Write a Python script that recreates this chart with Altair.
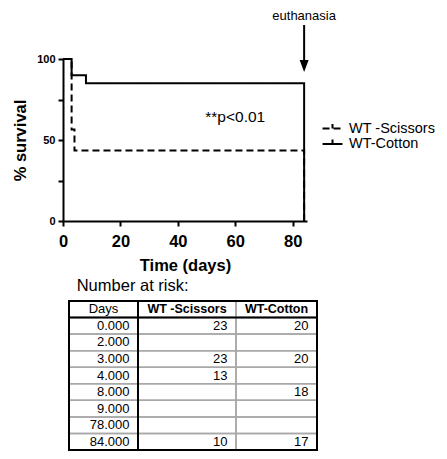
import altair as alt
import pandas as pd

FONT = "Liberation Sans"

# ---- survival data (Kaplan-Meier steps, % survival) ----
groups = ["WT -Scissors", "WT-Cotton"]
scissors_days = [0, 3, 4, 84, 84]
scissors_surv = [100, 56.5, 43.5, 43.5, 0]
cotton_days = [0, 3, 8, 84, 84]
cotton_surv = [100, 90, 85, 85, 0]

x_ticks = [0, 20, 40, 60, 80]
y_ticks = [0, 25, 50, 75, 100]

# ---- annotations ----
pval_text = ["**p<0.01"]
pval_day = [60]
pval_surv = [64]
euth_text = ["euthanasia"]
euth_day = [84]
euth_surv = [126.5]
arrow_top = [121]
arrow_end = [96]
arrow_head = [95.7]

# ---- number at risk table ----
table_title = ["Number at risk:"]
headers = ["Days", "WT -Scissors", "WT-Cotton"]
risk_days = ["0.000", "2.000", "3.000", "4.000", "8.000", "9.000", "78.000", "84.000"]
risk_scissors = ["23", "", "23", "13", "", "", "", "10"]
risk_cotton = ["20", "", "20", "", "18", "", "", "17"]
col_widths = [69, 98, 81]

# ---------- build frames ----------
curve_rows = []
for g, ds, ss in [(groups[0], scissors_days, scissors_surv), (groups[1], cotton_days, cotton_surv)]:
    for i, (d, s) in enumerate(zip(ds, ss)):
        curve_rows.append({"group": g, "day": d, "surv": s, "step": i})
curve_df = pd.DataFrame(curve_rows)

pval_df = pd.DataFrame({"day": pval_day, "surv": pval_surv, "label": pval_text})
euth_df = pd.DataFrame({"day": euth_day, "surv": euth_surv, "label": euth_text})
arrow_df = pd.DataFrame({"day": euth_day, "surv": arrow_top, "surv2": arrow_end})
head_df = pd.DataFrame({"day": euth_day, "surv": arrow_head})

edges = [0]
for w in col_widths:
    edges.append(edges[-1] + w)
total_w = edges[-1]
n_rows = len(risk_days) + 1

cells = []
for ci, h in enumerate(headers):
    cells.append({"x0": edges[ci], "x1": edges[ci + 1], "xc": (edges[ci] + edges[ci + 1]) / 2,
                  "y0": 0, "y1": 1, "ym": 0.5, "label": h, "col": ci, "row": 0})
for r, vals in enumerate(zip(risk_days, risk_scissors, risk_cotton), start=1):
    for ci, v in enumerate(vals):
        cells.append({"x0": edges[ci], "x1": edges[ci + 1], "xc": (edges[ci] + edges[ci + 1]) / 2,
                      "y0": r, "y1": r + 1, "ym": r + 0.5, "label": v, "col": ci, "row": r})
cell_df = pd.DataFrame(cells)
frame_df = pd.DataFrame({"x0": [0], "x1": [total_w], "y0": [0], "y1": [n_rows]})
hline_df = pd.DataFrame({"x0": [0], "x1": [total_w], "y0": [1]})
vline_df = pd.DataFrame({"x0": [edges[1]], "y0": [0], "y1": [n_rows]})
ttl_df = pd.DataFrame({"x0": [7.7], "y0": [-0.6], "label": table_title})

# ---------- main plot ----------
x_scale = alt.Scale(domain=[0, 85], nice=False, zero=False)
y_scale = alt.Scale(domain=[0, 100], nice=False)

X = alt.X("day:Q", scale=x_scale,
          axis=alt.Axis(values=x_ticks, title="Time (days)", labelFlush=False,
                        labelFontSize=16.5, titleFontSize=16.5, labelPadding=7, titlePadding=8))
Y = alt.Y("surv:Q", scale=y_scale,
          axis=alt.Axis(values=y_ticks, title="% survival",
                        labelExpr="datum.value % 50 === 0 ? datum.label : ''",
                        labelFontSize=11, titleFontSize=16.5, labelPadding=3, titlePadding=8))

curves = alt.Chart(curve_df).mark_line(interpolate="step-after", strokeWidth=2, color="black").encode(
    x=X, y=Y,
    strokeDash=alt.StrokeDash(
        "group:N",
        scale=alt.Scale(domain=groups, range=[[7, 4], [1, 0]]),
        legend=alt.Legend(orient="none", legendX=261, legendY=61, title=None,
                          symbolType="M-1.33,0H1.33M0,0V-0.6", symbolSize=225,
                          symbolStrokeWidth=2, symbolStrokeColor="black",
                          symbolFillColor="transparent",
                          labelFont=FONT, labelFontSize=14.5, labelColor="black",
                          labelOffset=8, rowPadding=0.5, padding=0, labelLimit=300),
    ),
    order="step:Q",
)

pval = alt.Chart(pval_df).mark_text(font=FONT, fontSize=15.5, color="black").encode(
    x="day:Q", y="surv:Q", text="label:N")
euth = alt.Chart(euth_df).mark_text(font=FONT, fontSize=13, color="black").encode(
    x="day:Q", y="surv:Q", text="label:N")
arrow = alt.Chart(arrow_df).mark_rule(strokeWidth=2, color="black").encode(
    x="day:Q", y="surv:Q", y2="surv2:Q")
head = alt.Chart(head_df).mark_point(shape="M-0.75,-1L0.75,-1L0,1Z", filled=True, size=144,
                                     color="black", opacity=1).encode(x="day:Q", y="surv:Q")

main = alt.layer(curves, arrow, head, pval, euth)

# ---------- table ----------
tx = alt.Scale(domain=[0, total_w], range=[6, 6 + total_w], nice=False, zero=False)
ty = alt.Scale(domain=[0, n_rows], range=[242, 391], nice=False, zero=False)

cell_rects = alt.Chart(cell_df).mark_rect(fillOpacity=0, stroke="#a8a8a8", strokeWidth=1.5).encode(
    x=alt.X("x0:Q", scale=tx, axis=None), x2="x1:Q",
    y=alt.Y("y0:Q", scale=ty, axis=None), y2="y1:Q")
hline = alt.Chart(hline_df).mark_rule(color="black", strokeWidth=2).encode(
    x=alt.X("x0:Q", scale=tx, axis=None), x2="x1:Q", y=alt.Y("y0:Q", scale=ty, axis=None))
vline = alt.Chart(vline_df).mark_rule(color="black", strokeWidth=2).encode(
    x=alt.X("x0:Q", scale=tx, axis=None), y=alt.Y("y0:Q", scale=ty, axis=None), y2="y1:Q")
frame = alt.Chart(frame_df).mark_rect(fillOpacity=0, stroke="black", strokeWidth=2).encode(
    x=alt.X("x0:Q", scale=tx, axis=None), x2="x1:Q",
    y=alt.Y("y0:Q", scale=ty, axis=None), y2="y1:Q")

hdr_days = alt.Chart(cell_df).transform_filter("datum.row == 0 && datum.col == 0").mark_text(
    font=FONT, fontSize=13, color="black").encode(
    x=alt.X("xc:Q", scale=tx, axis=None), y=alt.Y("ym:Q", scale=ty, axis=None), text="label:N")
hdr_groups = alt.Chart(cell_df).transform_filter("datum.row == 0 && datum.col > 0").mark_text(
    font=FONT, fontSize=12.5, fontWeight="bold", color="black").encode(
    x=alt.X("xc:Q", scale=tx, axis=None), y=alt.Y("ym:Q", scale=ty, axis=None), text="label:N")
body = alt.Chart(cell_df).transform_filter("datum.row > 0").mark_text(
    font=FONT, fontSize=13, color="black", align="right", dx=-8.5).encode(
    x=alt.X("x1:Q", scale=tx, axis=None), y=alt.Y("ym:Q", scale=ty, axis=None), text="label:N")
ttl = alt.Chart(ttl_df).mark_text(font=FONT, fontSize=16.5, color="black", align="left",
                                  baseline="alphabetic").encode(
    x=alt.X("x0:Q", scale=tx, axis=None), y=alt.Y("y0:Q", scale=ty, axis=None), text="label:N")

table = alt.layer(cell_rects, hline, vline, frame, hdr_days, hdr_groups, body, ttl)

W, H = 431, 443
chart = alt.layer(main, table).resolve_scale(x="independent", y="independent").properties(
    width=244, height=162,
    autosize=alt.AutoSizeParams(type="none"),
    padding={"left": 55, "top": 51, "right": W - 55 - 244, "bottom": H - 51 - 162},
).configure_view(stroke=None).configure_axis(
    domainColor="black", domainWidth=2, tickColor="black", tickWidth=2, tickSize=5,
    labelColor="black", titleColor="black", labelFont=FONT, titleFont=FONT,
    labelFontWeight="bold", titleFontWeight="bold", grid=False,
)

chart.save("out.html", embed_options={"renderer": "svg", "actions": False})
